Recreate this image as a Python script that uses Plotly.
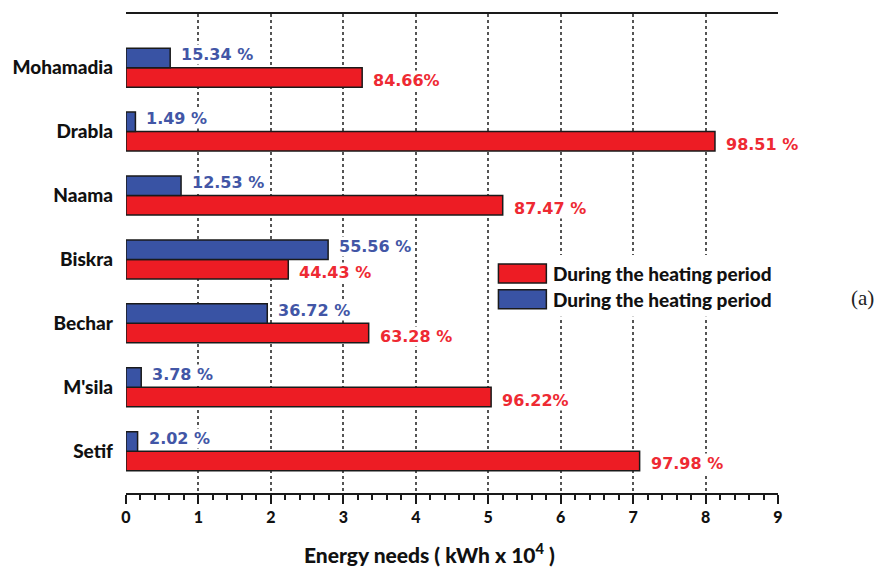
import plotly.graph_objects as go

# Energy needs per site (kWh x 10^4), listed top to bottom
cities = ["Mohamadia", "Drabla", "Naama", "Biskra", "Bechar", "M'sila", "Setif"]
heating = [3.26, 8.13, 5.20, 2.24, 3.35, 5.04, 7.09]
cooling = [0.61, 0.13, 0.76, 2.79, 1.95, 0.21, 0.16]
heating_pct = ["84.66%", "98.51 %", "87.47 %", "44.43 %", "63.28 %", "96.22%", "97.98 %"]
cooling_pct = ["15.34 %", "1.49 %", "12.53 %", "55.56 %", "36.72 %", "3.78 %", "2.02 %"]
x_ticks = list(range(0, 10))
legend_names = ["During the heating period", "During the heating period"]

RED = "#ED1C24"
BLUE = "#3953A4"
RED_TXT = "#EE2A33"
BLUE_TXT = "#4256A6"
EDGE = "#1a1a1a"
INK = "#111111"
SANS = "Lato"
VAL_FONT = "DejaVu Sans"

n = len(cities)
ypos = [n - 1 - i for i in range(n)]
group = 0.61
half = group / 4

fig = go.Figure()
fig.add_trace(go.Bar(
    y=ypos, x=heating, orientation="h", name=legend_names[0],
    marker=dict(color=RED, line=dict(color=EDGE, width=1.5)),
    showlegend=False,
))
fig.add_trace(go.Bar(
    y=ypos, x=cooling, orientation="h", name=legend_names[1],
    marker=dict(color=BLUE, line=dict(color=EDGE, width=1.5)),
    showlegend=False,
))

# Percentage labels beside the bar ends (white box hides the grid behind them)
for yp, v, t in zip(ypos, cooling, cooling_pct):
    fig.add_annotation(x=v, y=yp + half, text=t, showarrow=False,
                       xanchor="left", xshift=10, yshift=3,
                       bgcolor="white", borderpad=0,
                       font=dict(family=VAL_FONT, size=16, color=BLUE_TXT, weight="bold"))
for yp, v, t in zip(ypos, heating, heating_pct):
    fig.add_annotation(x=v, y=yp - half, text=t, showarrow=False,
                       xanchor="left", xshift=10, yshift=-3,
                       bgcolor="white", borderpad=0,
                       font=dict(family=VAL_FONT, size=16, color=RED_TXT, weight="bold"))

# Legend box drawn in plot-area coordinates
L, R, T, B = 125, 778, 12, 493
def px(xp):
    return (xp - L) / (R - L)
def py(yp):
    return (B - yp) / (B - T)

fig.add_shape(type="rect", xref="paper", yref="paper",
              x0=px(492), x1=px(776), y0=py(316), y1=py(254),
              fillcolor="white", line=dict(width=0), layer="above")
for (y0, y1), col, name in zip([(263, 282), (289, 308)], [RED, BLUE], legend_names):
    fig.add_shape(type="rect", xref="paper", yref="paper",
                  x0=px(498), x1=px(546), y0=py(y1), y1=py(y0),
                  fillcolor=col, line=dict(color=EDGE, width=1.5), layer="above")
    fig.add_annotation(xref="paper", yref="paper", x=px(551), y=py((y0 + y1) / 2),
                       text=name, showarrow=False, xanchor="left", yanchor="middle",
                       font=dict(family=SANS, size=19, color=INK, weight=900))

# Axis title
fig.add_annotation(xref="paper", yref="paper", x=px(429), y=py(553),
                   text="Energy needs ( kWh x 10<sup>4</sup> )", showarrow=False,
                   xanchor="center", yanchor="middle",
                   font=dict(family=SANS, size=21, color=INK, weight=900))

# Panel tag
fig.add_annotation(xref="paper", yref="paper", x=px(863), y=py(297),
                   text="(a)", showarrow=False, xanchor="center", yanchor="middle",
                   font=dict(family="Liberation Serif", size=21, color="#222222"))

fig.update_layout(
    width=882, height=568,
    margin=dict(l=L, r=882 - R, t=T, b=568 - B),
    paper_bgcolor="white", plot_bgcolor="white",
    barmode="group", bargap=1 - group, bargroupgap=0,
)
fig.update_xaxes(
    range=[0, 9], tickvals=x_ticks, ticktext=[str(v) for v in x_ticks],
    showline=True, linecolor=EDGE, linewidth=2, mirror=True,
    ticks="outside", ticklen=9, tickwidth=2, tickcolor=EDGE,
    minor=dict(dtick=0.2, ticks="outside", ticklen=5, tickwidth=1.5, tickcolor=EDGE, showgrid=False),
    showgrid=True, gridcolor="#555555", gridwidth=1.5, griddash="3px,3px",
    zeroline=False,
    tickfont=dict(family=SANS, size=16, color=INK, weight=900),
)
fig.update_yaxes(
    range=[-0.654, 6.84], tickvals=ypos, ticktext=cities,
    showline=False, showgrid=False, zeroline=False, ticks="",
    ticklabelstandoff=12, tickfont=dict(family=SANS, size=19, color=INK, weight=900),
)

fig.write_html("out.html")
